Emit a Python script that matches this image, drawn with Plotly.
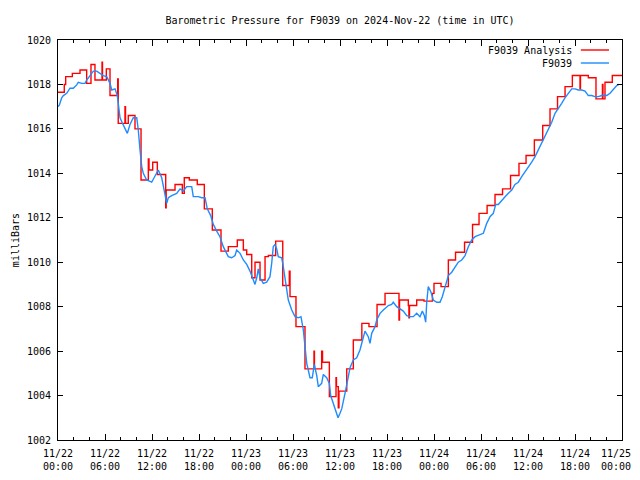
import plotly.graph_objects as go

# ---------------- data ----------------
TITLE = "Barometric Pressure for F9039 on 2024-Nov-22 (time in UTC)"

# F9039 observations (hours after 2024-11-22 00:00 UTC, millibars)
obs_hours = [0.0, 0.17, 0.47, 0.68, 1.11, 1.53, 1.95, 2.39, 2.59, 3.03, 3.45, 3.66, 4.09, 4.51, 4.94,
             5.36, 5.78, 6.22, 6.64, 6.86, 7.28, 7.57, 7.79, 7.92, 8.17, 8.55, 8.85, 9.19, 9.61, 10.05,
             10.25, 10.47, 10.69, 10.89, 11.32, 11.96, 12.38, 12.8, 13.24, 13.44, 13.88, 14.08, 14.52,
             15.15, 15.58, 16.0, 16.43, 17.07, 17.27, 17.91, 18.35, 18.77, 19.06, 19.49, 19.83, 20.26,
             20.68, 21.1, 21.74, 22.17, 22.6, 22.81, 23.24, 23.66, 24.09, 24.51, 24.93, 25.15, 25.37,
             25.57, 25.79, 26.21, 26.64, 27.06, 27.28, 27.48, 27.7, 27.92, 28.12, 28.56, 28.76, 28.98,
             29.2, 29.4, 29.84, 30.26, 30.68, 31.02, 31.32, 31.53, 31.75, 31.95, 32.17, 32.46, 32.72,
             33.03, 33.23, 33.66, 33.87, 34.3, 34.64, 34.81, 35.15, 35.49, 35.75, 36.0, 36.22, 36.64,
             37.06, 37.28, 37.7, 38.13, 38.55, 38.98, 39.19, 39.61, 39.83, 40.05, 40.47, 40.69, 41.11,
             41.53, 42.17, 42.6, 42.8, 43.24, 43.66, 44.08, 44.52, 44.94, 45.36, 45.79, 46.21, 46.51,
             46.76, 46.94, 47.07, 47.27, 47.62, 47.91, 48.35, 48.77, 49.06, 49.41, 49.83, 50.26, 50.68,
             51.1, 51.54, 51.96, 52.38, 52.82, 53.24, 53.66, 54.3, 54.73, 55.15, 55.57, 55.88, 56.21,
             56.64, 57.07, 57.49, 57.92, 58.34, 58.76, 59.2, 59.62, 60.04, 60.47, 60.9, 61.32, 61.75,
             62.17, 62.59, 63.03, 63.45, 63.87, 64.3, 64.72, 65.15, 65.58, 66.0, 66.42, 66.85, 67.28,
             67.7, 68.13, 68.55, 68.98, 69.41, 70.05, 70.47, 70.9, 71.33, 71.62]
obs_values = [1017.0, 1017.07, 1017.4, 1017.5, 1017.6, 1017.83, 1017.83, 1017.98, 1018.1, 1018.05, 1018.05,
              1018.2, 1018.4, 1018.6, 1018.6, 1018.5, 1018.4, 1018.35, 1018.05, 1017.75, 1017.8, 1017.5,
              1017.0, 1016.5, 1016.3, 1016.0, 1015.8, 1016.2, 1016.5, 1016.5, 1015.95, 1015.05, 1014.3,
              1014.0, 1013.7, 1013.6, 1013.9, 1014.15, 1013.8, 1013.4, 1012.65, 1012.9, 1013.0, 1013.1,
              1013.3, 1013.2, 1013.4, 1013.4, 1012.95, 1012.95, 1012.9, 1012.9, 1012.4, 1012.1, 1011.7,
              1011.4, 1011.15, 1010.7, 1010.25, 1010.2, 1010.3, 1010.55, 1010.4, 1010.1, 1009.9, 1009.6,
              1009.2, 1009.0, 1009.3, 1009.7, 1009.3, 1009.05, 1009.1, 1009.35, 1009.95, 1010.7, 1010.8,
              1010.6, 1010.25, 1010.2, 1009.8, 1009.2, 1008.75, 1008.3, 1007.85, 1007.55, 1007.5, 1007.55,
              1006.95, 1006.2, 1005.45, 1005.15, 1004.8, 1004.8, 1005.4, 1004.9, 1004.4, 1004.55, 1004.95,
              1004.8, 1004.55, 1004.0, 1003.6, 1003.2, 1003.0, 1003.2, 1003.4, 1004.1, 1004.85, 1005.25,
              1005.6, 1005.7, 1006.05, 1006.55, 1006.9, 1006.65, 1006.35, 1006.8, 1007.1, 1007.4, 1007.7,
              1007.85, 1008.05, 1008.1, 1008.2, 1008.0, 1007.9, 1007.8, 1007.6, 1007.55, 1007.55, 1007.7,
              1007.55, 1007.8, 1007.6, 1007.3, 1008.2, 1008.9, 1008.65, 1008.3, 1008.2, 1008.2, 1008.45,
              1008.9, 1009.4, 1009.55, 1009.8, 1010.0, 1010.1, 1010.3, 1010.7, 1011.0, 1011.15, 1011.2,
              1011.3, 1011.75, 1012.05, 1012.2, 1012.6, 1012.6, 1012.8, 1012.95, 1013.1, 1013.25, 1013.5,
              1013.6, 1013.85, 1014.05, 1014.3, 1014.5, 1014.75, 1015.05, 1015.35, 1015.65, 1016.0,
              1016.3, 1016.7, 1016.9, 1017.15, 1017.4, 1017.6, 1017.8, 1017.8, 1017.75, 1017.75, 1017.7,
              1017.5, 1017.5, 1017.45, 1017.45, 1017.5, 1017.5, 1017.6, 1017.8, 1017.95, 1018.0]

# F9039 Analysis (step values, hours after start)
ana_hours = [0.0, 0.8, 0.98, 1.83, 2.81, 3.66, 4.21, 4.72, 5.62, 5.68,
             6.17, 6.64, 7.62, 7.69, 8.55, 8.62, 8.97, 9.83, 10.6, 11.53,
             11.62, 12.09, 12.68, 13.75, 13.81, 14.94, 15.87, 16.12, 16.76, 17.78,
             18.68, 19.7, 20.81, 21.74, 22.89, 23.66, 24.09, 24.73, 25.15, 25.79,
             26.43, 26.85, 27.79, 28.69, 29.53, 29.62, 30.38, 31.53, 32.68, 32.74,
             33.66, 33.77, 34.64, 35.49, 35.55, 35.78, 35.87, 36.86, 37.7, 38.79,
             39.7, 40.73, 41.75, 43.53, 43.6, 44.72, 44.8, 44.87, 45.79, 46.72,
             47.8, 48.0, 48.9, 49.83, 50.75, 51.9, 52.92, 53.75, 54.78, 55.79,
             56.75, 57.77, 58.85, 59.75, 60.81, 61.88, 62.81, 63.77, 64.73, 65.66,
             66.64, 66.7, 67.7, 68.68, 69.5, 69.57, 69.83, 70.76, 72.0]
ana_values = [1017.65, 1018.0, 1018.35, 1018.5, 1018.65, 1018.05, 1018.9, 1018.2, 1019.0, 1018.2,
              1018.7, 1017.5, 1018.25, 1016.25, 1017.0, 1016.25, 1016.6, 1016.0, 1013.7, 1014.65,
              1014.15, 1014.5, 1013.95, 1012.45, 1013.25, 1013.5, 1013.1, 1013.8, 1013.7, 1013.5,
              1012.4, 1011.45, 1010.5, 1010.7, 1011.0, 1010.55, 1010.35, 1009.3, 1010.0, 1009.2,
              1010.25, 1010.3, 1010.95, 1008.95, 1009.6, 1008.45, 1007.1, 1005.2, 1006.0, 1005.2,
              1006.0, 1005.5, 1003.95, 1004.8, 1004.4, 1003.45, 1004.2, 1005.2, 1006.5, 1007.25,
              1007.1, 1008.1, 1008.6, 1007.4, 1008.3, 1008.05, 1007.5, 1008.05, 1008.3, 1008.25,
              1008.6, 1009.05, 1008.9, 1010.1, 1010.45, 1010.9, 1011.7, 1012.2, 1012.55, 1013.05,
              1013.3, 1013.9, 1014.45, 1014.8, 1015.5, 1016.15, 1016.9, 1017.45, 1017.9, 1018.4,
              1017.8, 1018.4, 1018.3, 1017.35, 1018.0, 1017.35, 1018.1, 1018.4, 1018.4]

tick_hours = [0, 6, 12, 18, 24, 30, 36, 42, 48, 54, 60, 66, 72]
tick_text = ["11/22<br>00:00", "11/22<br>06:00", "11/22<br>12:00", "11/22<br>18:00",
             "11/23<br>00:00", "11/23<br>06:00", "11/23<br>12:00", "11/23<br>18:00",
             "11/24<br>00:00", "11/24<br>06:00", "11/24<br>12:00", "11/24<br>18:00",
             "11/25\u00a0\u00a0<br>00:00\u00a0\u00a0"]  # padded so the last label stays inside the page
y_ticks = [1002, 1004, 1006, 1008, 1010, 1012, 1014, 1016, 1018, 1020]

series_names = ["F9039 Analysis", "F9039"]
series_colors = ["#FF0000", "#1E8CFF"]

assert len(obs_hours) == len(obs_values)
assert len(ana_hours) == len(ana_values)

FONT = "DejaVu Sans Mono"
FS = 10

fig = go.Figure()
fig.add_trace(go.Scatter(x=ana_hours, y=ana_values, mode="lines", name=series_names[0],
                         line=dict(color=series_colors[0], width=1.4, shape="hv")))
fig.add_trace(go.Scatter(x=obs_hours, y=obs_values, mode="lines", name=series_names[1],
                         line=dict(color=series_colors[1], width=1.4)))

# gnuplot-style legend (text on the left, sample line on the right)
leg_y = [0.975, 0.9425]
for name, color, yy in zip(series_names, series_colors, leg_y):
    fig.add_annotation(xref="paper", yref="paper", x=0.915, y=yy, text=name, showarrow=False,
                       xanchor="right", yanchor="middle", font=dict(family=FONT, size=FS, color="black"))
    fig.add_shape(type="line", xref="paper", yref="paper", x0=0.927, x1=0.977, y0=yy, y1=yy,
                  line=dict(color=color, width=1.4))

fig.add_annotation(xref="paper", yref="paper", x=-0.076, y=0.5, text="milliBars", textangle=-90,
                   showarrow=False, xanchor="center", yanchor="middle",
                   font=dict(family=FONT, size=FS, color="black"))

# the page body adds an 8px offset; margins compensate so the plot box sits at 58..622 x 40..440
fig.update_layout(
    width=640, height=480,
    margin=dict(l=50, r=26, t=32, b=48, autoexpand=False),
    paper_bgcolor="white", plot_bgcolor="white",
    showlegend=False,
    font=dict(family=FONT, size=FS, color="black"),
    title=dict(text=TITLE, x=0.5, xref="paper", xanchor="center", y=0.975, yanchor="middle",
               font=dict(family=FONT, size=FS, color="black")),
    xaxis=dict(range=[0, 72], tickmode="array", tickvals=tick_hours, ticktext=tick_text,
               ticks="inside", ticklen=6, tickcolor="black", tickwidth=1,
               showline=True, linecolor="black", linewidth=1, mirror="ticks",
               showgrid=False, zeroline=False, automargin=False, ticklabelstandoff=4,
               ticklabeloverflow="allow",
               minor=dict(dtick=2, tick0=0, ticks="inside", ticklen=3, tickcolor="black", showgrid=False),
               tickfont=dict(family=FONT, size=FS)),
    yaxis=dict(range=[1002, 1020], tickmode="array", tickvals=y_ticks,
               ticks="inside", ticklen=5, tickcolor="black", tickwidth=1,
               showline=True, linecolor="black", linewidth=1, mirror="ticks",
               showgrid=False, zeroline=False, automargin=False, ticklabelstandoff=4,
               tickfont=dict(family=FONT, size=FS)),
)

fig.write_html("out.html")
